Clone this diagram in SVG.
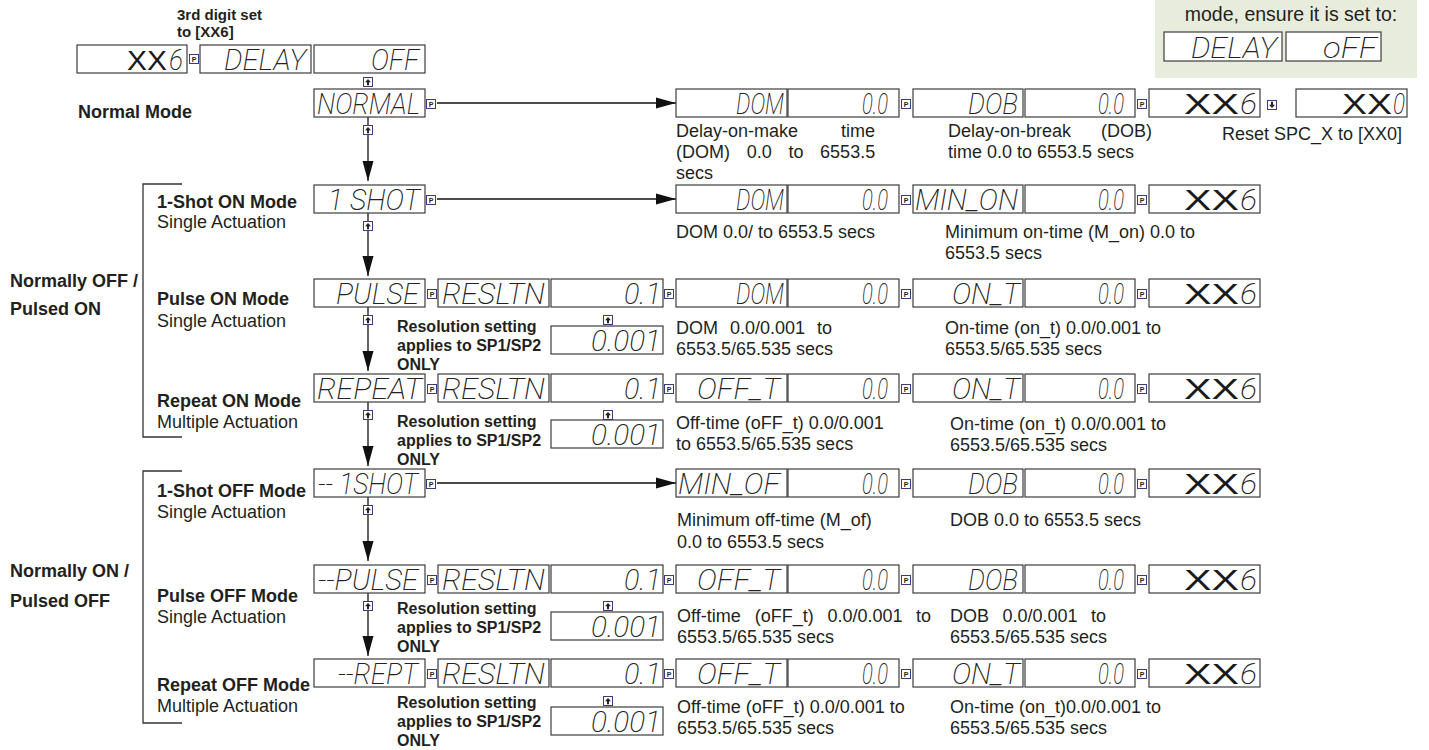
<svg xmlns="http://www.w3.org/2000/svg" width="1429" height="750" viewBox="0 0 1429 750">
<defs>
<style>
.bx{fill:#fff;stroke:#3c3c3c;stroke-width:1.2}
.lcd{font-family:Roboto,'DejaVu Sans',sans-serif;font-weight:200;font-style:italic;font-size:30px;fill:#222;text-anchor:end}
.xx{font-family:'Liberation Sans',Arial,sans-serif;font-size:29px;fill:#1a1a1a;text-anchor:end}
.d{font-family:'Liberation Sans',Arial,sans-serif;font-size:18px;fill:#231f20}
.b{font-family:'Liberation Sans',Arial,sans-serif;font-size:18px;font-weight:bold;fill:#231f20}
.r{font-family:'Liberation Sans',Arial,sans-serif;font-size:16px;font-weight:bold;fill:#231f20}
.c{stroke:#111;stroke-width:1.3;fill:none}
.bk{stroke:#333;stroke-width:1.3;fill:none}
.btn{fill:#fff;stroke:#3d3a82;stroke-width:1}
.pt{font-family:'Liberation Sans',Arial,sans-serif;font-size:7px;font-weight:bold;fill:#222;text-anchor:middle}
</style>
<marker id="ah" markerUnits="userSpaceOnUse" markerWidth="20" markerHeight="12" refX="20" refY="6" orient="auto"><path d="M0,0.5 L20,6 L0,11.5 Z" fill="#111"/></marker>
<symbol id="bP" viewBox="0 0 10 10"><rect class="btn" x="0.5" y="0.5" width="9" height="9"/><text class="pt" x="5" y="7.6">P</text></symbol>
<symbol id="bU" viewBox="0 0 10 10"><rect class="btn" x="0.5" y="0.5" width="9" height="9"/><path d="M5,2 L8,5.2 L6,5.2 L6,8.2 L4,8.2 L4,5.2 L2,5.2 Z" fill="#222"/></symbol>
<symbol id="bD" viewBox="0 0 10 10"><rect class="btn" x="0.5" y="0.5" width="9" height="9"/><path d="M5,8 L8,4.8 L6,4.8 L6,1.8 L4,1.8 L4,4.8 L2,4.8 Z" fill="#222"/></symbol>
</defs>
<rect width="1429" height="750" fill="#fff"/>

<g id="connectors">
<line class="c" x1="437" y1="103" x2="676" y2="103" marker-end="url(#ah)"/>
<line class="c" x1="437" y1="199" x2="676" y2="199" marker-end="url(#ah)"/>
<line class="c" x1="437" y1="483" x2="676" y2="483" marker-end="url(#ah)"/>
<line class="c" x1="368" y1="102" x2="368" y2="181" marker-end="url(#ah)"/>
<line class="c" x1="368" y1="213" x2="368" y2="276" marker-end="url(#ah)"/>
<line class="c" x1="368" y1="307" x2="368" y2="371" marker-end="url(#ah)"/>
<line class="c" x1="368" y1="402" x2="368" y2="466" marker-end="url(#ah)"/>
<line class="c" x1="368" y1="497" x2="368" y2="561" marker-end="url(#ah)"/>
<line class="c" x1="368" y1="593" x2="368" y2="656" marker-end="url(#ah)"/>
<path class="bk" d="M182,184 H143 V437 H182"/>
<path class="bk" d="M182,471 H143 V723 H182"/>
</g>

<g id="labels">
<text class="r" x="177" y="20" style="font-size:15px">3rd digit set</text>
<text class="r" x="177" y="37" style="font-size:15px">to [XX6]</text>
<text class="b" x="78" y="118">Normal Mode</text>
<text class="b" x="10" y="287">Normally OFF /</text>
<text class="b" x="10" y="315">Pulsed ON</text>
<text class="b" x="10" y="577">Normally ON /</text>
<text class="b" x="10" y="607">Pulsed OFF</text>
<text class="b" x="157" y="208">1-Shot ON Mode</text>
<text class="d" x="157" y="228">Single Actuation</text>
<text class="b" x="157" y="305">Pulse ON Mode</text>
<text class="d" x="157" y="327">Single Actuation</text>
<text class="b" x="157" y="407">Repeat ON Mode</text>
<text class="d" x="157" y="428">Multiple Actuation</text>
<text class="b" x="157" y="497">1-Shot OFF Mode</text>
<text class="d" x="157" y="518">Single Actuation</text>
<text class="b" x="157" y="602">Pulse OFF Mode</text>
<text class="d" x="157" y="623">Single Actuation</text>
<text class="b" x="157" y="691">Repeat OFF Mode</text>
<text class="d" x="157" y="712">Multiple Actuation</text>
</g>

<g id="note">
<rect x="1155" y="0" width="262" height="78" fill="#e8ecdc"/>
<text class="d" x="1291" y="21" text-anchor="middle" style="font-size:19.5px">mode, ensure it is set to:</text>
<rect class="bx" x="1164" y="32" width="118" height="29"/>
<text class="lcd" x="1277" y="58" textLength="86" lengthAdjust="spacingAndGlyphs">DELAY</text>
<rect class="bx" x="1286" y="32" width="95" height="29"/>
<text class="lcd" x="1377" y="58" textLength="54" lengthAdjust="spacingAndGlyphs">oFF</text>
</g>

<g id="top-row">
<rect class="bx" x="77" y="45" width="110" height="28"/>
<text class="xx" x="167" y="70" textLength="40" lengthAdjust="spacingAndGlyphs" style="font-size:28px">XX</text>
<text class="lcd" x="183" y="70" textLength="14" lengthAdjust="spacingAndGlyphs">6</text>
<use href="#bP" x="189" y="54" width="10" height="10"/>
<rect class="bx" x="200" y="45" width="111" height="28"/>
<text class="lcd" x="306" y="70" textLength="82" lengthAdjust="spacingAndGlyphs">DELAY</text>
<rect class="bx" x="314" y="45" width="111" height="28"/>
<text class="lcd" x="419" y="70" textLength="48" lengthAdjust="spacingAndGlyphs">OFF</text>
<use href="#bU" x="363" y="77" width="10" height="10"/>
</g>

<!-- NORMAL row -->
<g id="normal">
<rect class="bx" x="314" y="89" width="111" height="28"/>
<text class="lcd" x="420" y="114" textLength="103" lengthAdjust="spacingAndGlyphs">NORMAL</text>
<use href="#bP" x="426" y="99" width="10" height="10"/>
<use href="#bU" x="363" y="125" width="10" height="10"/>
</g>
<g id="normal-params">
<rect class="bx" x="676" y="89" width="111" height="28"/>
<text class="lcd" x="784" y="114" textLength="48" lengthAdjust="spacingAndGlyphs">DOM</text>
<rect class="bx" x="788" y="89" width="111" height="28"/>
<text class="lcd" x="888" y="114" textLength="26" lengthAdjust="spacingAndGlyphs">0.0</text>
<use href="#bP" x="901" y="99" width="10" height="10"/>
<rect class="bx" x="913" y="89" width="110" height="28"/>
<text class="lcd" x="1018" y="114" textLength="50" lengthAdjust="spacingAndGlyphs">DOB</text>
<rect class="bx" x="1025" y="89" width="110" height="28"/>
<text class="lcd" x="1124" y="114" textLength="26" lengthAdjust="spacingAndGlyphs">0.0</text>
<use href="#bP" x="1137" y="99" width="10" height="10"/>
<rect class="bx" x="1149" y="89" width="111" height="28"/>
<text class="xx" x="1239" y="114" textLength="55" lengthAdjust="spacingAndGlyphs">XX</text>
<text class="lcd" x="1257" y="114" textLength="17" lengthAdjust="spacingAndGlyphs">6</text>
<use href="#bD" x="1267" y="100" width="10" height="10"/>
<rect class="bx" x="1296" y="89" width="111" height="28"/>
<text class="xx" x="1392" y="114" textLength="50" lengthAdjust="spacingAndGlyphs">XX</text>
<text class="lcd" x="1405" y="114" textLength="12" lengthAdjust="spacingAndGlyphs">0</text>
<text class="d" y="137"><tspan x="676">Delay-on-make</tspan><tspan x="841">time</tspan></text>
<text class="d" y="158"><tspan x="676">(DOM)</tspan><tspan x="746.7">0.0</tspan><tspan x="788.4">to</tspan><tspan x="820.1">6553.5</tspan></text>
<text class="d" x="676" y="179">secs</text>
<text class="d" y="137"><tspan x="948">Delay-on-break</tspan><tspan x="1101">(DOB)</tspan></text>
<text class="d" x="948" y="158">time 0.0 to 6553.5 secs</text>
<text class="d" x="1222" y="140">Reset SPC_X to [XX0]</text>
</g>

<!-- 1 SHOT row -->
<g id="oneshot">
<rect class="bx" x="314" y="185" width="111" height="28"/>
<text class="lcd" x="420" y="210" textLength="92" lengthAdjust="spacingAndGlyphs">1 SHOT</text>
<use href="#bP" x="426" y="195" width="10" height="10"/>
<use href="#bU" x="363" y="221" width="10" height="10"/>
</g>
<g id="oneshot-params">
<rect class="bx" x="676" y="185" width="111" height="28"/>
<text class="lcd" x="784" y="210" textLength="48" lengthAdjust="spacingAndGlyphs">DOM</text>
<rect class="bx" x="788" y="185" width="111" height="28"/>
<text class="lcd" x="888" y="210" textLength="26" lengthAdjust="spacingAndGlyphs">0.0</text>
<use href="#bP" x="901" y="195" width="10" height="10"/>
<rect class="bx" x="913" y="185" width="110" height="28"/>
<text class="lcd" x="1018" y="210" textLength="103" lengthAdjust="spacingAndGlyphs">MIN_ON</text>
<rect class="bx" x="1025" y="185" width="110" height="28"/>
<text class="lcd" x="1124" y="210" textLength="26" lengthAdjust="spacingAndGlyphs">0.0</text>
<use href="#bP" x="1137" y="195" width="10" height="10"/>
<rect class="bx" x="1149" y="185" width="111" height="28"/>
<text class="xx" x="1239" y="210" textLength="55" lengthAdjust="spacingAndGlyphs">XX</text>
<text class="lcd" x="1257" y="210" textLength="17" lengthAdjust="spacingAndGlyphs">6</text>
<text class="d" x="676" y="238">DOM 0.0/ to 6553.5 secs</text>
<text class="d" x="945" y="238">Minimum on-time (M_on) 0.0 to</text>
<text class="d" x="945" y="259">6553.5 secs</text>
</g>

<!-- PULSE row -->
<g id="pulse">
<rect class="bx" x="314" y="279" width="111" height="28"/>
<text class="lcd" x="419" y="304" textLength="83" lengthAdjust="spacingAndGlyphs">PULSE</text>
<use href="#bP" x="427" y="289" width="10" height="10"/>
<use href="#bU" x="363" y="315" width="10" height="10"/>
</g>
<g id="pulse-params">
<rect class="bx" x="438" y="279" width="111" height="28"/>
<text class="lcd" x="545" y="304" textLength="103" lengthAdjust="spacingAndGlyphs">RESLTN</text>
<rect class="bx" x="551" y="279" width="112" height="28"/>
<text class="lcd" x="661" y="304" textLength="37" lengthAdjust="spacingAndGlyphs">0.1</text>
<use href="#bP" x="664" y="289" width="10" height="10"/>
<use href="#bU" x="603" y="315" width="10" height="10"/>
<rect class="bx" x="551" y="326" width="112" height="28"/>
<text class="lcd" x="661" y="351" textLength="70" lengthAdjust="spacingAndGlyphs">0.001</text>
<text class="r" x="397" y="332">Resolution setting</text>
<text class="r" x="397" y="351">applies to SP1/SP2</text>
<text class="r" x="397" y="370">ONLY</text>
<rect class="bx" x="676" y="279" width="111" height="28"/>
<text class="lcd" x="784" y="304" textLength="48" lengthAdjust="spacingAndGlyphs">DOM</text>
<rect class="bx" x="788" y="279" width="111" height="28"/>
<text class="lcd" x="888" y="304" textLength="26" lengthAdjust="spacingAndGlyphs">0.0</text>
<use href="#bP" x="901" y="289" width="10" height="10"/>
<rect class="bx" x="913" y="279" width="110" height="28"/>
<text class="lcd" x="1020" y="304" textLength="68" lengthAdjust="spacingAndGlyphs">ON_T</text>
<rect class="bx" x="1025" y="279" width="110" height="28"/>
<text class="lcd" x="1124" y="304" textLength="26" lengthAdjust="spacingAndGlyphs">0.0</text>
<use href="#bP" x="1137" y="289" width="10" height="10"/>
<rect class="bx" x="1149" y="279" width="111" height="28"/>
<text class="xx" x="1239" y="304" textLength="55" lengthAdjust="spacingAndGlyphs">XX</text>
<text class="lcd" x="1257" y="304" textLength="17" lengthAdjust="spacingAndGlyphs">6</text>
<text class="d" y="334"><tspan x="676">DOM</tspan><tspan x="730">0.0/0.001</tspan><tspan x="817">to</tspan></text>
<text class="d" x="676" y="355">6553.5/65.535 secs</text>
<text class="d" x="945" y="334">On-time (on_t) 0.0/0.001 to</text>
<text class="d" x="945" y="355">6553.5/65.535 secs</text>
</g>

<!-- REPEAT row -->
<g id="repeat">
<rect class="bx" x="314" y="374" width="111" height="28"/>
<text class="lcd" x="422" y="399" textLength="105" lengthAdjust="spacingAndGlyphs">REPEAT</text>
<use href="#bP" x="427" y="384" width="10" height="10"/>
<use href="#bU" x="363" y="410" width="10" height="10"/>
</g>
<g id="repeat-params">
<rect class="bx" x="438" y="374" width="111" height="28"/>
<text class="lcd" x="545" y="399" textLength="103" lengthAdjust="spacingAndGlyphs">RESLTN</text>
<rect class="bx" x="551" y="374" width="112" height="28"/>
<text class="lcd" x="661" y="399" textLength="37" lengthAdjust="spacingAndGlyphs">0.1</text>
<use href="#bP" x="664" y="384" width="10" height="10"/>
<use href="#bU" x="603" y="410" width="10" height="10"/>
<rect class="bx" x="551" y="420" width="112" height="28"/>
<text class="lcd" x="661" y="445" textLength="70" lengthAdjust="spacingAndGlyphs">0.001</text>
<text class="r" x="397" y="427">Resolution setting</text>
<text class="r" x="397" y="446">applies to SP1/SP2</text>
<text class="r" x="397" y="465">ONLY</text>
<rect class="bx" x="676" y="374" width="111" height="28"/>
<text class="lcd" x="780" y="399" textLength="83" lengthAdjust="spacingAndGlyphs">OFF_T</text>
<rect class="bx" x="788" y="374" width="111" height="28"/>
<text class="lcd" x="888" y="399" textLength="26" lengthAdjust="spacingAndGlyphs">0.0</text>
<use href="#bP" x="901" y="384" width="10" height="10"/>
<rect class="bx" x="913" y="374" width="110" height="28"/>
<text class="lcd" x="1020" y="399" textLength="68" lengthAdjust="spacingAndGlyphs">ON_T</text>
<rect class="bx" x="1025" y="374" width="110" height="28"/>
<text class="lcd" x="1124" y="399" textLength="26" lengthAdjust="spacingAndGlyphs">0.0</text>
<use href="#bP" x="1137" y="384" width="10" height="10"/>
<rect class="bx" x="1149" y="374" width="111" height="28"/>
<text class="xx" x="1239" y="399" textLength="55" lengthAdjust="spacingAndGlyphs">XX</text>
<text class="lcd" x="1257" y="399" textLength="17" lengthAdjust="spacingAndGlyphs">6</text>
<text class="d" x="676" y="429">Off-time (oFF_t) 0.0/0.001</text>
<text class="d" x="676" y="450">to 6553.5/65.535 secs</text>
<text class="d" x="950" y="430">On-time (on_t) 0.0/0.001 to</text>
<text class="d" x="950" y="451">6553.5/65.535 secs</text>
</g>

<!-- -1SHOT row -->
<g id="oneshot-off">
<rect class="bx" x="314" y="469" width="111" height="28"/>
<text class="lcd" x="418" y="494" textLength="100" lengthAdjust="spacingAndGlyphs">-- 1SHOT</text>
<use href="#bP" x="426" y="479" width="10" height="10"/>
<use href="#bU" x="363" y="505" width="10" height="10"/>
</g>
<g id="oneshot-off-params">
<rect class="bx" x="676" y="469" width="111" height="28"/>
<text class="lcd" x="780" y="494" textLength="102" lengthAdjust="spacingAndGlyphs">MIN_OF</text>
<rect class="bx" x="788" y="469" width="111" height="28"/>
<text class="lcd" x="888" y="494" textLength="26" lengthAdjust="spacingAndGlyphs">0.0</text>
<use href="#bP" x="901" y="479" width="10" height="10"/>
<rect class="bx" x="913" y="469" width="110" height="28"/>
<text class="lcd" x="1018" y="494" textLength="50" lengthAdjust="spacingAndGlyphs">DOB</text>
<rect class="bx" x="1025" y="469" width="110" height="28"/>
<text class="lcd" x="1124" y="494" textLength="26" lengthAdjust="spacingAndGlyphs">0.0</text>
<use href="#bP" x="1137" y="479" width="10" height="10"/>
<rect class="bx" x="1149" y="469" width="111" height="28"/>
<text class="xx" x="1239" y="494" textLength="55" lengthAdjust="spacingAndGlyphs">XX</text>
<text class="lcd" x="1257" y="494" textLength="17" lengthAdjust="spacingAndGlyphs">6</text>
<text class="d" x="677" y="526">Minimum off-time (M_of)</text>
<text class="d" x="677" y="548">0.0 to 6553.5 secs</text>
<text class="d" x="950" y="526">DOB 0.0 to 6553.5 secs</text>
</g>

<!-- -PULSE row -->
<g id="pulse-off">
<rect class="bx" x="314" y="565" width="111" height="28"/>
<text class="lcd" x="418" y="590" textLength="100" lengthAdjust="spacingAndGlyphs">--PULSE</text>
<use href="#bP" x="427" y="575" width="10" height="10"/>
<use href="#bU" x="363" y="601" width="10" height="10"/>
</g>
<g id="pulse-off-params">
<rect class="bx" x="438" y="565" width="111" height="28"/>
<text class="lcd" x="545" y="590" textLength="103" lengthAdjust="spacingAndGlyphs">RESLTN</text>
<rect class="bx" x="551" y="565" width="112" height="28"/>
<text class="lcd" x="661" y="590" textLength="37" lengthAdjust="spacingAndGlyphs">0.1</text>
<use href="#bP" x="664" y="575" width="10" height="10"/>
<use href="#bU" x="603" y="601" width="10" height="10"/>
<rect class="bx" x="551" y="612" width="112" height="28"/>
<text class="lcd" x="661" y="637" textLength="70" lengthAdjust="spacingAndGlyphs">0.001</text>
<text class="r" x="397" y="614">Resolution setting</text>
<text class="r" x="397" y="633">applies to SP1/SP2</text>
<text class="r" x="397" y="652">ONLY</text>
<rect class="bx" x="676" y="565" width="111" height="28"/>
<text class="lcd" x="780" y="590" textLength="83" lengthAdjust="spacingAndGlyphs">OFF_T</text>
<rect class="bx" x="788" y="565" width="111" height="28"/>
<text class="lcd" x="888" y="590" textLength="26" lengthAdjust="spacingAndGlyphs">0.0</text>
<use href="#bP" x="901" y="575" width="10" height="10"/>
<rect class="bx" x="913" y="565" width="110" height="28"/>
<text class="lcd" x="1018" y="590" textLength="50" lengthAdjust="spacingAndGlyphs">DOB</text>
<rect class="bx" x="1025" y="565" width="110" height="28"/>
<text class="lcd" x="1124" y="590" textLength="26" lengthAdjust="spacingAndGlyphs">0.0</text>
<use href="#bP" x="1137" y="575" width="10" height="10"/>
<rect class="bx" x="1149" y="565" width="111" height="28"/>
<text class="xx" x="1239" y="590" textLength="55" lengthAdjust="spacingAndGlyphs">XX</text>
<text class="lcd" x="1257" y="590" textLength="17" lengthAdjust="spacingAndGlyphs">6</text>
<text class="d" y="622"><tspan x="677">Off-time</tspan><tspan x="754.7">(oFF_t)</tspan><tspan x="827.4">0.0/0.001</tspan><tspan x="916">to</tspan></text>
<text class="d" x="677" y="643">6553.5/65.535 secs</text>
<text class="d" y="622"><tspan x="950">DOB</tspan><tspan x="1002.5">0.0/0.001</tspan><tspan x="1091">to</tspan></text>
<text class="d" x="950" y="643">6553.5/65.535 secs</text>
</g>

<!-- -REPT row -->
<g id="repeat-off">
<rect class="bx" x="314" y="659" width="111" height="28"/>
<text class="lcd" x="418" y="684" textLength="80" lengthAdjust="spacingAndGlyphs">--REPT</text>
<use href="#bP" x="427" y="669" width="10" height="10"/>
</g>
<g id="repeat-off-params">
<rect class="bx" x="438" y="659" width="111" height="28"/>
<text class="lcd" x="545" y="684" textLength="103" lengthAdjust="spacingAndGlyphs">RESLTN</text>
<rect class="bx" x="551" y="659" width="112" height="28"/>
<text class="lcd" x="661" y="684" textLength="37" lengthAdjust="spacingAndGlyphs">0.1</text>
<use href="#bP" x="664" y="669" width="10" height="10"/>
<use href="#bU" x="603" y="696" width="10" height="10"/>
<rect class="bx" x="551" y="707" width="112" height="28"/>
<text class="lcd" x="661" y="732" textLength="70" lengthAdjust="spacingAndGlyphs">0.001</text>
<text class="r" x="397" y="708">Resolution setting</text>
<text class="r" x="397" y="727">applies to SP1/SP2</text>
<text class="r" x="397" y="746">ONLY</text>
<rect class="bx" x="676" y="659" width="111" height="28"/>
<text class="lcd" x="780" y="684" textLength="83" lengthAdjust="spacingAndGlyphs">OFF_T</text>
<rect class="bx" x="788" y="659" width="111" height="28"/>
<text class="lcd" x="888" y="684" textLength="26" lengthAdjust="spacingAndGlyphs">0.0</text>
<use href="#bP" x="901" y="669" width="10" height="10"/>
<rect class="bx" x="913" y="659" width="110" height="28"/>
<text class="lcd" x="1020" y="684" textLength="68" lengthAdjust="spacingAndGlyphs">ON_T</text>
<rect class="bx" x="1025" y="659" width="110" height="28"/>
<text class="lcd" x="1124" y="684" textLength="26" lengthAdjust="spacingAndGlyphs">0.0</text>
<use href="#bP" x="1137" y="669" width="10" height="10"/>
<rect class="bx" x="1149" y="659" width="111" height="28"/>
<text class="xx" x="1239" y="684" textLength="55" lengthAdjust="spacingAndGlyphs">XX</text>
<text class="lcd" x="1257" y="684" textLength="17" lengthAdjust="spacingAndGlyphs">6</text>
<text class="d" x="677" y="713">Off-time (oFF_t) 0.0/0.001 to</text>
<text class="d" x="677" y="734">6553.5/65.535 secs</text>
<text class="d" x="950" y="713">On-time (on_t)0.0/0.001 to</text>
<text class="d" x="950" y="734">6553.5/65.535 secs</text>
</g>
</svg>
